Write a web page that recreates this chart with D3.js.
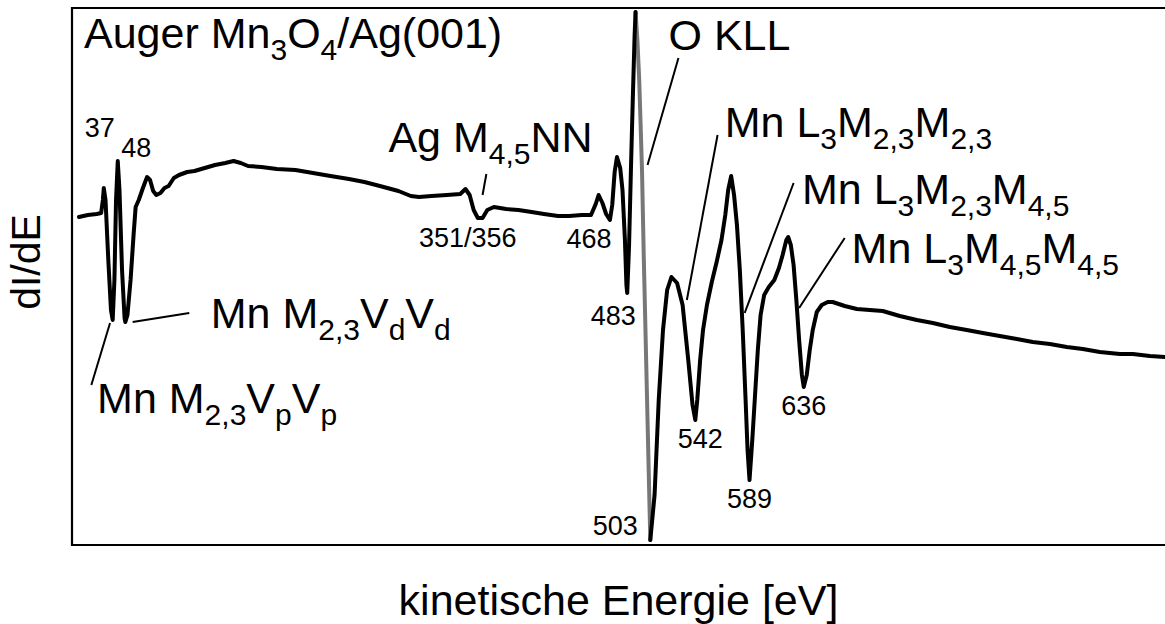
<!DOCTYPE html>
<html>
<head>
<meta charset="utf-8">
<script src="https://cdn.jsdelivr.net/npm/d3@7"></script>
<style>
  body { margin: 0; background: #fff; }
  svg { display: block; }
  text { font-family: "Liberation Sans", Arial, Helvetica, sans-serif; fill: #000; }
</style>
</head>
<body>
<svg id="chart" width="1165" height="624"></svg>
<script>
// Auger spectrum (derivative mode) of Mn3O4 on Ag(001)
// kinetic energy in eV
const energy = [
  7.8, 15.5, 23.2, 27.0, 28.5, 29.3, 30.8, 33.2, 35.5, 37,
  38.5, 39.9, 41.4, 42.9, 45.1, 47.3, 48, 49.8, 52.5, 55.1,
  56.9, 59.6, 63.2, 66.8, 69.4, 72.1, 74.8, 78.4, 81.9, 85.5,
  90.0, 94.5, 101.6, 107.9, 116.8, 125.7, 134.6, 141.8, 148.0, 154.3,
  165.9, 179.3, 195.4, 210.6, 225.8, 241.8, 255.2, 268.6, 284.7, 295.4,
  302.6, 313.3, 326.7, 338.3, 342.8, 346.4, 349.9, 353.5, 357.6, 361.7,
  367.4, 378.0, 388.7, 400.1, 410.8, 423.0, 432.8, 443.5, 451.6, 455.7,
  458.2, 461.5, 464.7, 468, 470.0, 472.1, 474.1, 476.9, 478.9, 481.0,
  482.3, 483, 484.6, 486.2, 487.8, 489.4, 490.2, 491.8, 493.4, 495.8,
  497.4, 499.0, 500.6, 502.2, 503, 506.7, 510.3, 514.0, 517.6, 521.3,
  526.2, 531.0, 535.9, 539.6, 542, 543.7, 546.2, 548.7, 552.1, 556.3,
  560.5, 564.7, 568.0, 570.5, 573.1, 575.6, 578.1, 580.6, 583.1, 585.6,
  587.3, 589, 591.4, 593.8, 596.2, 598.6, 601.7, 605.7, 610.5, 614.5,
  617.7, 620.9, 622.5, 624.8, 627.2, 629.6, 632.0, 634.4, 636, 638.6,
  641.2, 643.8, 647.3, 651.6, 656.8, 661.1, 671.5, 682.0, 693.2, 704.5,
  719.2, 734.0, 747.9, 762.6, 777.3, 791.2, 805.9, 820.7, 834.5, 849.3,
  864.0, 877.9, 892.6, 910.0, 921.2, 936.0, 949.0
];

// dI/dE in arbitrary units
const intensity = [
  328, 330, 331, 332, 345, 357, 345, 285, 235, 225,
  265, 345, 384, 355, 275, 227, 223, 230, 265, 310,
  338, 345, 357, 368, 365, 354, 350, 352, 357, 359,
  367, 370, 373, 374, 377, 380, 382, 384, 382, 379,
  378, 376, 375, 372, 369, 366, 363, 359, 354, 349,
  348, 349, 350, 351, 356, 350, 335, 327, 327, 335,
  338, 336, 335, 333, 331, 329, 329, 330, 330, 341,
  350, 342, 331, 325, 340, 373, 388, 377, 355, 305,
  260, 252, 300, 375, 445, 510, 533, 505, 465, 375,
  285, 205, 125, 45, 5, 50, 145, 215, 255, 268,
  262, 240, 185, 140, 125, 145, 185, 215, 240, 263,
  283, 305, 330, 355, 369, 350, 320, 275, 215, 145,
  95, 65, 105, 150, 195, 230, 250, 258, 265, 277,
  290, 305, 308, 300, 280, 245, 205, 170, 158, 170,
  195, 215, 233, 240, 243, 243, 239, 236, 235, 234,
  229, 225, 222, 218, 215, 212, 209, 206, 203, 201,
  198, 196, 193, 191, 191, 189, 188
];

// fast O KLL sweep, recorded as a fainter trace
const oKllSweep = [490.2, 503];

// labelled peak energies (eV)
const peakEnergies = [37, 48, 353.5, 468, 483, 503, 542, 589, 636];
const peakTexts = ["37", "48", "351/356", "468", "483", "503", "542", "589", "636"];
// label placement relative to the trace at that energy (px)
const peakLabelDx = [-13, 11, -10, -21, -14, -35, 5, 0, 0];
const peakLabelDy = [-183, -165, 29, 28, 32, -5, 28, 28, 28];

// transition labels: text position and leader line, in (eV, dI/dE)
const transitions = [
  { text: "Ag M_{4,5}NN",           at: [276.0, 393], from: [357.6, 350], to: [360.9, 371] },
  { text: "O KLL",                  at: [518.8, 495], from: [500.6, 380], to: [527.4, 487] },
  { text: "Mn L_{3}M_{2,3}M_{2,3}", at: [567.5, 408], from: [534.7, 245], to: [561.3, 410] },
  { text: "Mn L_{3}M_{2,3}M_{4,5}", at: [634.5, 341], from: [584.8, 232], to: [627.2, 362] },
  { text: "Mn L_{3}M_{4,5}M_{4,5}", at: [677.5, 282], from: [632.0, 237], to: [671.5, 307] },
  { text: "Mn M_{2,3}V_{d}V_{d}",   at: [122.0, 217], from: [54.3, 223],  to: [103.4, 232] },
  { text: "Mn M_{2,3}V_{p}V_{p}",   at: [23.5, 132],  from: [34.7, 222],  to: [18.5, 160] }
];

const titleText = "Auger Mn_{3}O_{4}/Ag(001)";
const xLabel = "kinetische Energie [eV]";
const yLabel = "dI/dE";

// ---- layout ----
const W = 1165, H = 624;
const frame = { left: 72, top: 8, bottom: 545 };

const svg = d3.select("#chart");

const x = d3.scaleLinear().domain([0, 950]).range([70, 1166]);
const y = d3.scaleLinear().domain([0, 537]).range([frame.bottom, frame.top]);

const points = energy.map((e, i) => ({ e, v: intensity[i] }));

// text with simple _{...} subscripts
function richText(sel, str, subSize, shift) {
  const parts = str.split(/_\{([^}]*)\}/);
  let lowered = false;
  parts.forEach((p, i) => {
    if (!p) return;
    const t = sel.append("tspan").text(p);
    if (i % 2 === 1) {
      t.attr("font-size", subSize);
      if (!lowered) { t.attr("dy", shift); lowered = true; }
    } else if (lowered) {
      t.attr("dy", -shift);
      lowered = false;
    }
  });
  return sel;
}

// frame (open on the right)
svg.append("path")
  .attr("d", `M${W + 5},${frame.top} H${frame.left} V${frame.bottom} H${W + 5}`)
  .attr("fill", "none")
  .attr("stroke", "#000")
  .attr("stroke-width", 2.2);

const line = d3.line().x(d => x(d.e)).y(d => y(d.v)).curve(d3.curveLinear);

const before = points.filter(d => d.e <= oKllSweep[0]);
const sweep = points.filter(d => d.e >= oKllSweep[0] && d.e <= oKllSweep[1]);
const after = points.filter(d => d.e >= oKllSweep[1]);

const traces = svg.append("g")
  .attr("fill", "none")
  .attr("stroke-linejoin", "round")
  .attr("stroke-linecap", "round");

traces.append("path").datum(sweep).attr("d", line)
  .attr("stroke", "#777").attr("stroke-width", 4);
traces.append("path").datum(before).attr("d", line)
  .attr("stroke", "#000").attr("stroke-width", 4);
traces.append("path").datum(after).attr("d", line)
  .attr("stroke", "#000").attr("stroke-width", 4);

// peak energy labels
const valueAt = e => points.reduce((a, b) => Math.abs(b.e - e) < Math.abs(a.e - e) ? b : a).v;
svg.append("g").selectAll("text")
  .data(peakEnergies)
  .join("text")
  .attr("x", (e, i) => x(e) + peakLabelDx[i])
  .attr("y", (e, i) => y(valueAt(e)) + peakLabelDy[i])
  .attr("text-anchor", "middle")
  .attr("font-size", 27)
  .text((e, i) => peakTexts[i]);

// transition leaders and names
const tg = svg.append("g");
tg.selectAll("line")
  .data(transitions)
  .join("line")
  .attr("x1", d => x(d.from[0])).attr("y1", d => y(d.from[1]))
  .attr("x2", d => x(d.to[0])).attr("y2", d => y(d.to[1]))
  .attr("stroke", "#000").attr("stroke-width", 2);

tg.selectAll("text")
  .data(transitions)
  .join("text")
  .attr("x", d => x(d.at[0]))
  .attr("y", d => y(d.at[1]))
  .attr("font-size", 43)
  .each(function (d) { richText(d3.select(this), d.text, 30, 12); });

// title
richText(svg.append("text").attr("x", 84).attr("y", 48).attr("font-size", 43), titleText, 30, 12);

// axis titles
svg.append("text")
  .attr("x", (frame.left + W) / 2)
  .attr("y", 615)
  .attr("text-anchor", "middle")
  .attr("font-size", 43)
  .text(xLabel);

svg.append("text")
  .attr("transform", `translate(40,262) rotate(-90)`)
  .attr("text-anchor", "middle")
  .attr("font-size", 41)
  .text(yLabel);
</script>
</body>
</html>
